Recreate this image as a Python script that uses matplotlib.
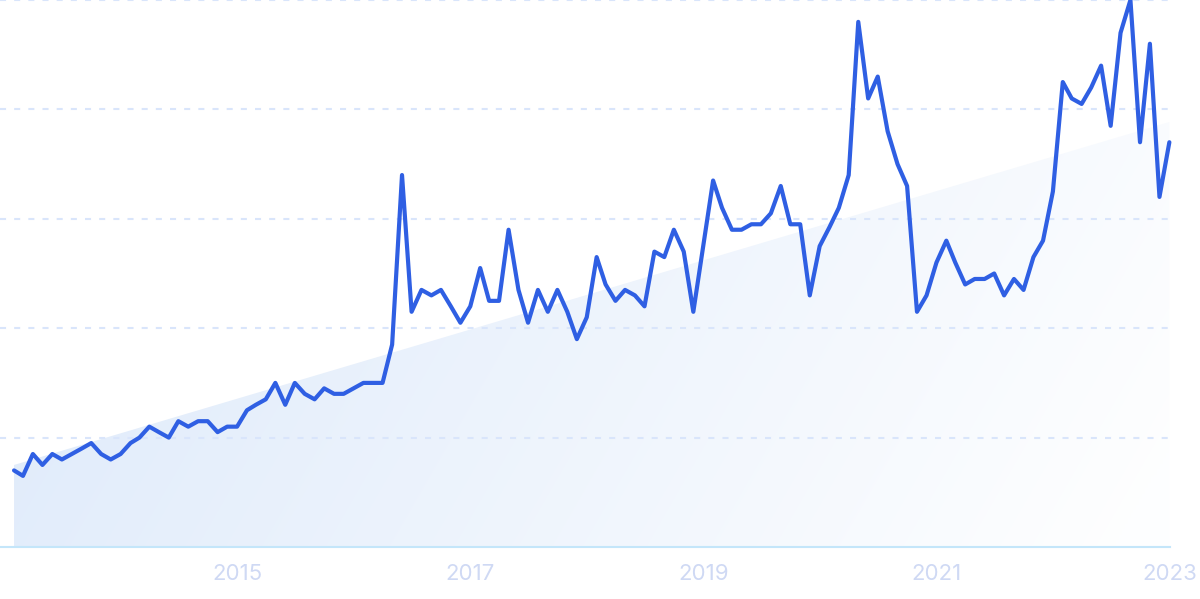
import numpy as np
import pandas as pd
import matplotlib
matplotlib.use("Agg")
import matplotlib.pyplot as plt

# ---------------- data ----------------
dates = pd.date_range("2013-02-01", periods=120, freq="MS")
values = [
    14, 13, 17, 15, 17, 16, 17, 18, 19, 17,
    16, 17, 19, 20, 22, 21, 20, 23, 22, 23,
    23, 21, 22, 22, 25, 26, 27, 30, 26, 30,
    28, 27, 29, 28, 28, 29, 30, 30, 30, 37,
    68, 43, 47, 46, 47, 44, 41, 44, 51, 45,
    45, 58, 47, 41, 47, 43, 47, 43, 38, 42,
    53, 48, 45, 47, 46, 44, 54, 53, 58, 54,
    43, 55, 67, 62, 58, 58, 59, 59, 61, 66,
    59, 59, 46, 55, 58.5, 62, 68, 96, 82, 86,
    76, 70, 66, 43, 46, 52, 56, 52, 48, 49,
    49, 50, 46, 49, 47, 53, 56, 65, 85, 82,
    81, 84, 88, 77, 94, 100, 74, 92, 64, 74,
]
trend_dates = [dates[0], dates[-1]]
trend_values = [15.0, 77.7]
tick_years = [2015, 2017, 2019, 2021, 2023]
tick_labels = ["2015", "2017", "2019", "2021", "2023"]
grid_levels = [20, 40, 60, 80, 100]

# ---------------- figure ----------------
plt.rcParams["font.family"] = ["Inter", "DejaVu Sans"]
fig = plt.figure(figsize=(12, 5.99), dpi=100)
ax = fig.add_axes([0, 52 / 599, 1170 / 1200, 547 / 599])
ax.set_facecolor("white")

x0 = dates[0] - pd.Timedelta(days=44)
x1 = dates[-1] + pd.Timedelta(days=2)
ax.set_xlim(x0, x1)
ax.set_ylim(0, 100)

# trend area with gradient
poly = ax.fill_between(trend_dates, [0, 0], trend_values, facecolor="none",
                       edgecolor="none", zorder=1)
ny, nx = 200, 400
xx = np.linspace(0, 1, nx)[None, :]
yy = np.linspace(1, 0, ny)[:, None]  # top row = high
t = np.clip(0.82 * xx + 0.22 * (1 - yy), 0, 1)
c0 = np.array([0.858, 0.910, 0.980])
c1 = np.array([0.995, 0.997, 1.0])
img = c0[None, None, :] * (1 - t[..., None]) + c1[None, None, :] * t[..., None]
xlim = ax.get_xlim()
im = ax.imshow(img, extent=[xlim[0], xlim[1], 0, 100], aspect="auto",
               origin="upper", zorder=1, interpolation="bilinear")
im.set_clip_path(poly.get_paths()[0], transform=ax.transData)
ax.set_xlim(xlim)
ax.set_ylim(0, 100)

# grid lines
for lvl in grid_levels:
    ln = ax.axhline(lvl, color="#d9e5fb", lw=1.5, zorder=2, clip_on=False)
    ln.set_dashes((2.9, 3.9))
ax.axhline(0, color="#c4e6fa", lw=1.5, zorder=2, clip_on=False)

# main line
ax.plot(dates, values, color="#2f5fe3", lw=3.0, solid_joinstyle="round",
        solid_capstyle="round", zorder=3, clip_on=False)

# ticks
ax.set_xticks([pd.Timestamp(f"{y}-01-01") for y in tick_years])
ax.set_xticklabels(tick_labels)
ax.tick_params(axis="x", length=0, pad=12, labelsize=16, labelcolor="#cfd9f4")
ax.set_yticks([])
for s in ax.spines.values():
    s.set_visible(False)

fig.savefig("out.png", dpi=100, facecolor="white")
